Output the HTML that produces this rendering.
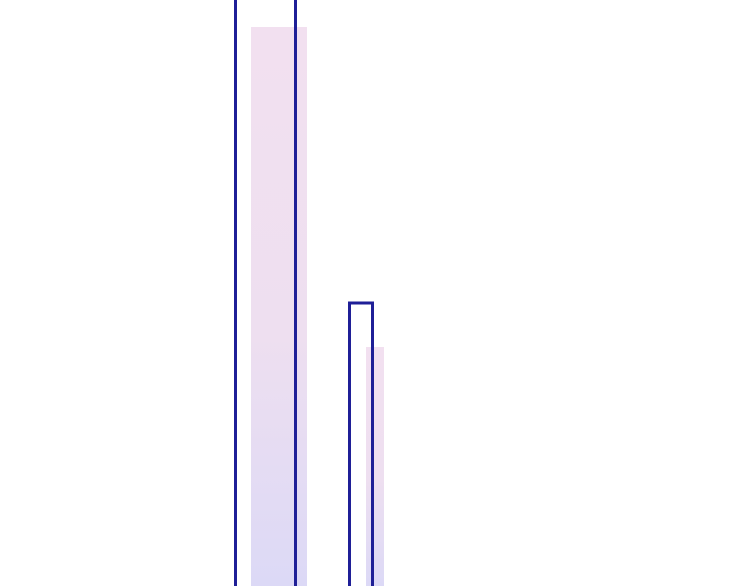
<!DOCTYPE html>
<html><head><meta charset="utf-8"><style>
html,body{margin:0;padding:0;background:#fff;width:750px;height:586px;overflow:hidden}
</style></head><body>
<svg id="chart" width="750" height="586" viewBox="0 0 750 586" xmlns="http://www.w3.org/2000/svg">
<defs><linearGradient id="g" x1="0" y1="0" x2="0" y2="1"><stop offset="0" stop-color="#f2e0f0"/><stop offset="0.55" stop-color="#eedff0"/><stop offset="1" stop-color="#dcd9f6"/></linearGradient></defs>
</svg>
<script>
const categories = ["A", "B"];
const outlineValues = [620, 283];
const fillValues = [559, 239];
const outlineX = [235.5, 349.5], outlineW = [60, 23];
const fillX = [251, 366], fillW = [56, 18];
const base = 586;
function y(v){ return base - v; }
const svg = document.getElementById('chart');
const NS = 'http://www.w3.org/2000/svg';
categories.forEach((c,i)=>{
  const f = document.createElementNS(NS,'rect');
  
  
  f.setAttribute('x', fillX[i]); f.setAttribute('width', fillW[i]);
  f.setAttribute('y', y(fillValues[i])); f.setAttribute('height', fillValues[i]);
  f.setAttribute('fill', 'url(#g)');
  svg.appendChild(f);
});
categories.forEach((c,i)=>{
  const r = document.createElementNS(NS,'rect');
  
  
  r.setAttribute('x', outlineX[i]); r.setAttribute('width', outlineW[i]);
  r.setAttribute('y', y(outlineValues[i])); r.setAttribute('height', outlineValues[i] + 10);
  r.setAttribute('fill', 'none'); r.setAttribute('stroke', '#1f1f97'); r.setAttribute('stroke-width', '3');
  svg.appendChild(r);
});
</script>
</body></html>
